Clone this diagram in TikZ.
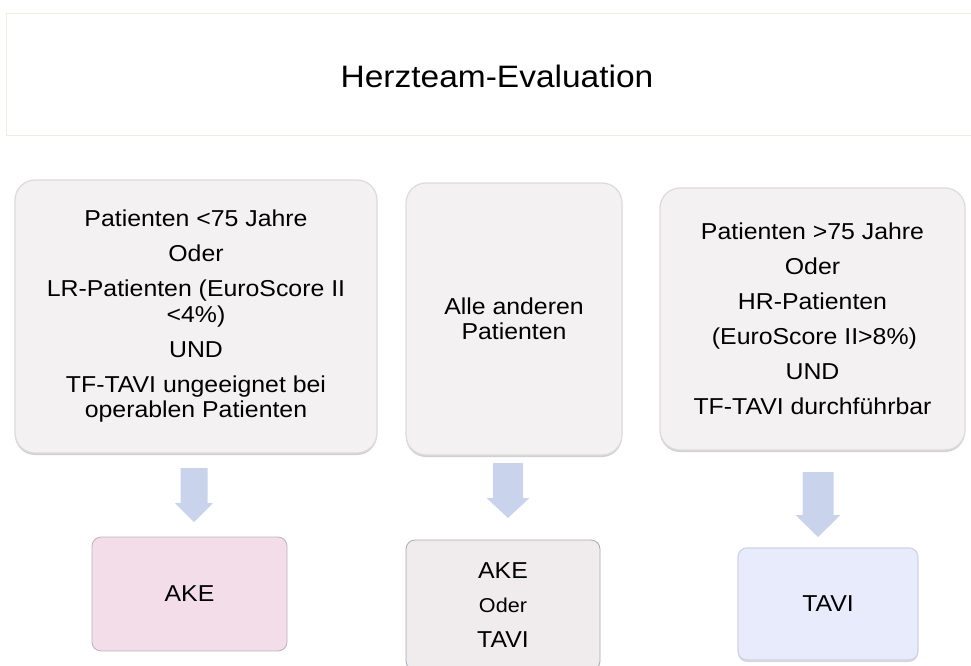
\documentclass[tikz,border=0pt]{standalone}
\usepackage{fontspec}
\setmainfont{Liberation Sans}[FakeStretch=1.08]
\usetikzlibrary{shadows}
\definecolor{greybox}{HTML}{F3F1F2}
\definecolor{greyedge}{HTML}{DCDADB}
\definecolor{pinkbox}{HTML}{F2DDE8}
\definecolor{pinkedge}{HTML}{B9B3C0}
\definecolor{midbox}{HTML}{F0ECEE}
\definecolor{midedge}{HTML}{A9A9B4}
\definecolor{lavbox}{HTML}{E7EBFC}
\definecolor{lavedge}{HTML}{CFD3E6}
\definecolor{arrowblue}{HTML}{C9D4EC}
\definecolor{titleedge}{HTML}{EEEEE2}
\newcommand{\myarrow}[6]{%
  \fill[arrowblue] ({#1-#5},{-#2}) -- ({#1+#5},{-#2}) -- ({#1+#5},{-#3}) -- ({#1+#6},{-#3})
    -- ({#1},{-#4}) -- ({#1-#6},{-#3}) -- ({#1-#5},{-#3}) -- cycle;}
\tikzset{
  every node/.style={text=black},
  condbox/.style={draw=greyedge, line width=1.2pt, fill=greybox, rounded corners=20pt,
    align=center, inner sep=0pt, font=\fontsize{23}{25.5}\selectfont,
    drop shadow={shadow xshift=0pt, shadow yshift=-2pt, opacity=0.18, fill=black}},
  resbox/.style={line width=0.8pt, rounded corners=9pt, align=center, inner sep=0pt,
    font=\fontsize{23}{25.5}\selectfont}
}
\begin{document}
\begin{tikzpicture}[x=1pt,y=1pt]
\useasboundingbox (0,0) rectangle (971,-666);
\clip (0,0) rectangle (971,-666);
% title
\node[draw=titleedge, line width=1.2pt, fill=white, minimum width=975pt, minimum height=122pt,
  inner sep=0pt, anchor=north west] (title) at (6,-13) {};
\node[font=\fontsize{31}{34}\selectfont] (titletext) at (497,-76) {Herzteam-Evaluation};
% condition boxes
\node[condbox, minimum width=362pt, minimum height=273pt] (c1) at (196,-316.5)
  {Patienten <75 Jahre\\[9.5pt]Oder\\[9.5pt]LR-Patienten (EuroScore II\\<4\%)\\[9.5pt]UND\\[9.5pt]TF-TAVI ungeeignet bei\\operablen Patienten};
\node[condbox, minimum width=216pt, minimum height=272pt] (c2) at (514,-319)
  {Alle anderen\\Patienten};
\node[condbox, minimum width=305pt, minimum height=262pt] (c3) at (812.5,-319)
  {Patienten >75 Jahre\\[9.5pt]Oder\\[9.5pt]HR-Patienten\\[9.5pt]\,(EuroScore II>8\%)\\[9.5pt]UND\\[9.5pt]TF-TAVI durchführbar};
% arrows
\myarrow{194}{468}{503}{522}{13.5}{19}
\myarrow{508}{463}{498}{518}{15}{21.5}
\myarrow{818}{472}{515}{537}{15.5}{22.5}
% result boxes
\node[resbox, draw=pinkedge, fill=pinkbox, minimum width=195pt, minimum height=114pt] (r1) at (189.5,-594) {AKE};
\node[resbox, draw=midedge, fill=midbox, minimum width=194pt, minimum height=130pt] (r2) at (503,-605)
  {AKE\\[9pt]{\fontsize{20}{25.5}\selectfont Oder}\\[9pt]TAVI};
\node[resbox, draw=lavedge, line width=1.2pt, fill=lavbox, minimum width=180pt, minimum height=112pt,
  drop shadow={shadow xshift=0pt, shadow yshift=-2pt, opacity=0.15, fill=black}] (r3) at (828,-604) {TAVI};
\end{tikzpicture}
\end{document}
